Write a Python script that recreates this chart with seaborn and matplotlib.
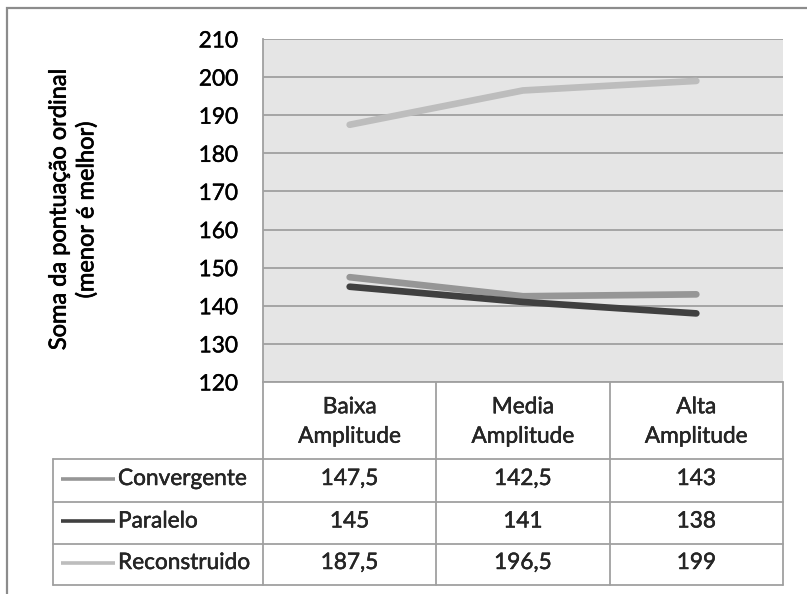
import matplotlib
matplotlib.use("Agg")
import matplotlib.pyplot as plt
import matplotlib.transforms as mtransforms
import matplotlib.patheffects as pe
from matplotlib.patches import Rectangle
from matplotlib.lines import Line2D
import pandas as pd
import seaborn as sns

# Data
categories = ["Baixa\nAmplitude", "Media\nAmplitude", "Alta\nAmplitude"]
series_names = ["Convergente", "Paralelo", "Reconstruido"]
convergente = [147.5, 142.5, 143]
paralelo = [145, 141, 138]
reconstruido = [187.5, 196.5, 199]
y_ticks = [120, 130, 140, 150, 160, 170, 180, 190, 200, 210]
y_label = "Soma da pontuação ordinal\n(menor é melhor)"

series_colors = {"Convergente": "#969696", "Paralelo": "#404040", "Reconstruido": "#BDBDBD"}

rows = []
for name, vals in zip(series_names, [convergente, paralelo, reconstruido]):
    for i, v in enumerate(vals):
        rows.append({"pos": i, "cat": categories[i], "serie": name, "valor": v})
df = pd.DataFrame(rows)

sns.set_theme(style="white")
plt.rcParams["font.family"] = ["Lato", "DejaVu Sans"]

FS = 16.3
heavy = [pe.withStroke(linewidth=0.3, foreground="#000000")]

W, H = 807, 594
fig = plt.figure(figsize=(W / 100, H / 100), dpi=100)


def fx(px):
    return px / W


def fy(py):
    return 1 - py / H


# Plot area
left, right, top, bottom = 263, 783, 39, 382
ax = fig.add_axes([fx(left), fy(bottom), fx(right - left), fy(top) - fy(bottom)])
ax.set_facecolor("#E5E5E5")

sns.lineplot(data=df, x="pos", y="valor", hue="serie", hue_order=series_names,
             palette=series_colors, linewidth=4.8, ax=ax, legend=False,
             solid_capstyle="round", solid_joinstyle="round")

ax.set_xlim(-0.5, len(categories) - 0.5)
ax.set_ylim(y_ticks[0], y_ticks[-1])
ax.set_yticks(y_ticks)
ax.set_yticklabels([str(t) for t in y_ticks], fontsize=FS, color="#000000")
for lab in ax.get_yticklabels():
    lab.set_path_effects(heavy)
ax.set_xticks([])
ax.set_xlabel("")
ax.set_ylabel("")
ax.tick_params(axis="y", length=0, pad=18)
for t in y_ticks:
    ax.axhline(t, color="#A0A0A0", linewidth=1.3, zorder=1)
for s in ["top", "right", "bottom"]:
    ax.spines[s].set_visible(False)
ax.spines["left"].set_color("#A0A0A0")
ax.spines["left"].set_linewidth(1.3)

fig.text(fx(73), fy(210), y_label, rotation=90, ha="center", va="center",
         fontsize=17, color="#000000", linespacing=1.35,
         path_effects=[pe.withStroke(linewidth=0.5, foreground="#000000")])

# Data table beneath the plot
tr = mtransforms.blended_transform_factory(ax.transData, fig.transFigure)
line_kw = dict(color="#A0A0A0", linewidth=1.3)

header_top, header_bot = bottom, 459
row_edges = [459, 502, 544, 585]
table_left = 53
col_edges = [-0.5, 0.5, 1.5, 2.5]

for c in col_edges:
    fig.add_artist(Line2D([c, c], [fy(header_top), fy(row_edges[-1])], transform=tr, **line_kw))
for r in row_edges:
    fig.add_artist(Line2D([fx(table_left), fx(right)], [fy(r)] * 2,
                          transform=fig.transFigure, **line_kw))
fig.add_artist(Line2D([fx(table_left)] * 2, [fy(row_edges[0]), fy(row_edges[-1])],
                      transform=fig.transFigure, **line_kw))
fig.add_artist(Line2D([fx(left), fx(right)], [fy(bottom)] * 2,
                      transform=fig.transFigure, **line_kw))

for i, cat in enumerate(categories):
    fig.text(i, fy((header_top + header_bot) / 2 + 1), cat, transform=tr, ha="center",
             va="center", fontsize=FS, linespacing=1.5, path_effects=heavy)


def fmt(v):
    s = f"{v:g}"
    return s.replace(".", ",")


for r, (name, vals) in enumerate(zip(series_names, [convergente, paralelo, reconstruido])):
    yc = fy((row_edges[r] + row_edges[r + 1]) / 2 - 2)
    fig.add_artist(Line2D([fx(61), fx(115)], [yc, yc], transform=fig.transFigure,
                          color=series_colors[name], linewidth=2.6, solid_capstyle="butt"))
    fig.text(fx(118), yc, name, ha="left", va="center", fontsize=FS, path_effects=heavy)
    for i, v in enumerate(vals):
        fig.text(i, yc, fmt(v), transform=tr, ha="center", va="center", fontsize=FS,
                 path_effects=heavy)

# Outer chart frame (left and top edges inside the canvas)
fig.add_artist(Rectangle((fx(7), fy(610)), fx(830 - 7), fy(8) - fy(610),
                         transform=fig.transFigure, fill=False, edgecolor="#8C8C8C",
                         linewidth=1.6, clip_on=False))

fig.savefig("out.png", dpi=100)
